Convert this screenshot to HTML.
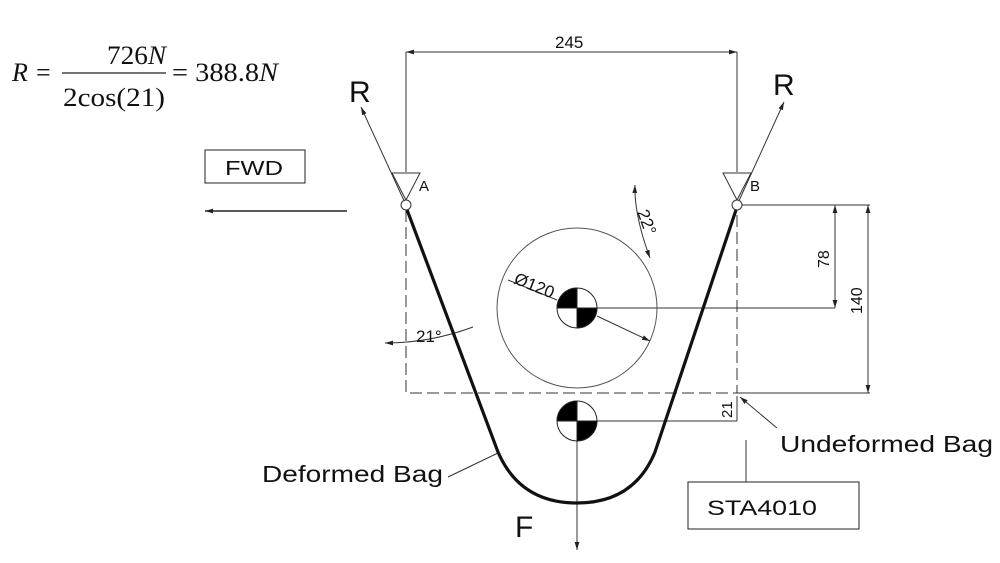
<!DOCTYPE html>
<html><head><meta charset="utf-8"><style>
html,body{margin:0;padding:0;background:#fff;width:1000px;height:563px;overflow:hidden}
svg{display:block}
text{font-family:"Liberation Sans",Arial,sans-serif;fill:#111}
.s{font-family:"Liberation Serif",serif}
</style></head><body>
<svg width="1000" height="563" viewBox="0 0 1000 563" xmlns="http://www.w3.org/2000/svg">
<defs>
<marker id="ar" viewBox="0 0 10 10" refX="10" refY="5" markerWidth="8" markerHeight="8" orient="auto-start-reverse" markerUnits="userSpaceOnUse"><path d="M0,2 L10,5 L0,8 z" fill="#222"/></marker>
</defs>
<!-- formula -->
<text class="s" x="12" y="81" font-size="26" font-style="italic">R</text>
<text class="s" x="36" y="81" font-size="26">=</text>
<text class="s" x="107" y="64" font-size="26" textLength="59" lengthAdjust="spacingAndGlyphs">726<tspan font-style="italic">N</tspan></text>
<line x1="62" y1="73" x2="166" y2="73" stroke="#222" stroke-width="1.3"/>
<text class="s" x="63" y="106" font-size="26" textLength="102" lengthAdjust="spacingAndGlyphs">2cos(21)</text>
<text class="s" x="172" y="81" font-size="26" textLength="106" lengthAdjust="spacingAndGlyphs">= 388.8<tspan font-style="italic">N</tspan></text>

<g stroke="#333" stroke-width="1" fill="none">
<line x1="406" y1="52" x2="406" y2="172"/>
<line x1="737" y1="52" x2="737" y2="172"/>
<line x1="406" y1="52" x2="737" y2="52" marker-start="url(#ar)" marker-end="url(#ar)"/>
<path d="M406,210 V393 H737 V210" stroke-dasharray="12,5"/>
<line x1="740" y1="205" x2="870" y2="205"/>
<line x1="597" y1="308" x2="835" y2="308"/>
<line x1="737" y1="393" x2="870" y2="393"/>
<line x1="597" y1="421" x2="737" y2="421"/>
<line x1="835" y1="205" x2="835" y2="308" marker-start="url(#ar)" marker-end="url(#ar)"/>
<line x1="868" y1="205" x2="868" y2="393" marker-start="url(#ar)" marker-end="url(#ar)"/>
<line x1="737" y1="396" x2="737" y2="421"/>
<circle cx="577" cy="308" r="80" stroke="#555"/>
<line x1="508" y1="280" x2="557" y2="300"/>
<line x1="597" y1="316" x2="650" y2="341" marker-end="url(#ar)"/>
<path d="M385,343 Q430,343 473,327" marker-start="url(#ar)"/>
<path d="M635,185 Q634,215 650,258" marker-start="url(#ar)" marker-end="url(#ar)"/>
<line x1="406" y1="205" x2="361" y2="107" marker-end="url(#ar)"/>
<line x1="737" y1="205" x2="784" y2="102" marker-end="url(#ar)"/>
<path d="M392,173 H420 L406,200 Z"/>
<path d="M723,173 H751 L737,200 Z"/>
<line x1="577" y1="441" x2="577" y2="550" marker-end="url(#ar)"/>
<rect x="205" y="150" width="100" height="33" stroke="#222"/>
<line x1="347" y1="211" x2="205" y2="211" stroke="#222" stroke-width="1.5" marker-end="url(#ar)"/>
<rect x="688" y="482" width="171" height="47" stroke="#222"/>
<line x1="746" y1="440" x2="746" y2="482"/>
<line x1="777" y1="428" x2="740" y2="397" marker-end="url(#ar)"/>
<line x1="448" y1="477" x2="498" y2="453"/>
</g>
<path d="M406,207 L498,452 Q520,503 577,503 Q634,503 655,452 L737,207" fill="none" stroke="#111" stroke-width="3.2"/>
<circle cx="406" cy="205" r="5" fill="#fff" stroke="#333"/>
<circle cx="737" cy="205" r="5" fill="#fff" stroke="#333"/>
<g stroke="#222" stroke-width="1">
<circle cx="577" cy="308" r="20" fill="#fff"/>
<path d="M577,308 V288 A20,20 0 0,0 557,308 Z" fill="#000"/>
<path d="M577,308 V328 A20,20 0 0,0 597,308 Z" fill="#000"/>
<circle cx="577" cy="421" r="20" fill="#fff"/>
<path d="M577,421 V401 A20,20 0 0,0 557,421 Z" fill="#000"/>
<path d="M577,421 V441 A20,20 0 0,0 597,421 Z" fill="#000"/>
</g>
<text x="555" y="48" font-size="17">245</text>
<text x="349" y="102" font-size="30">R</text>
<text x="773" y="95" font-size="30">R</text>
<text x="419" y="191" font-size="15">A</text>
<text x="750" y="191" font-size="15">B</text>
<text x="225" y="175" font-size="20" textLength="58" lengthAdjust="spacingAndGlyphs">FWD</text>
<text x="707" y="515" font-size="21" textLength="110" lengthAdjust="spacingAndGlyphs">STA4010</text>
<text x="780" y="452" font-size="23" textLength="213" lengthAdjust="spacingAndGlyphs">Undeformed Bag</text>
<text x="262" y="482" font-size="23" textLength="181" lengthAdjust="spacingAndGlyphs">Deformed Bag</text>
<text x="515" y="537" font-size="30">F</text>
<text x="416" y="342" font-size="17">21°</text>
<text x="0" y="0" font-size="17" transform="translate(637,212) rotate(70)">22°</text>
<text x="0" y="0" font-size="17" transform="translate(513,283) rotate(22)">Ø120</text>
<text x="0" y="0" font-size="16" transform="translate(829,268) rotate(-90)">78</text>
<text x="0" y="0" font-size="16" transform="translate(862,314) rotate(-90)">140</text>
<text x="0" y="0" font-size="15" transform="translate(732,418) rotate(-90)">21</text>
</svg>
</body></html>
